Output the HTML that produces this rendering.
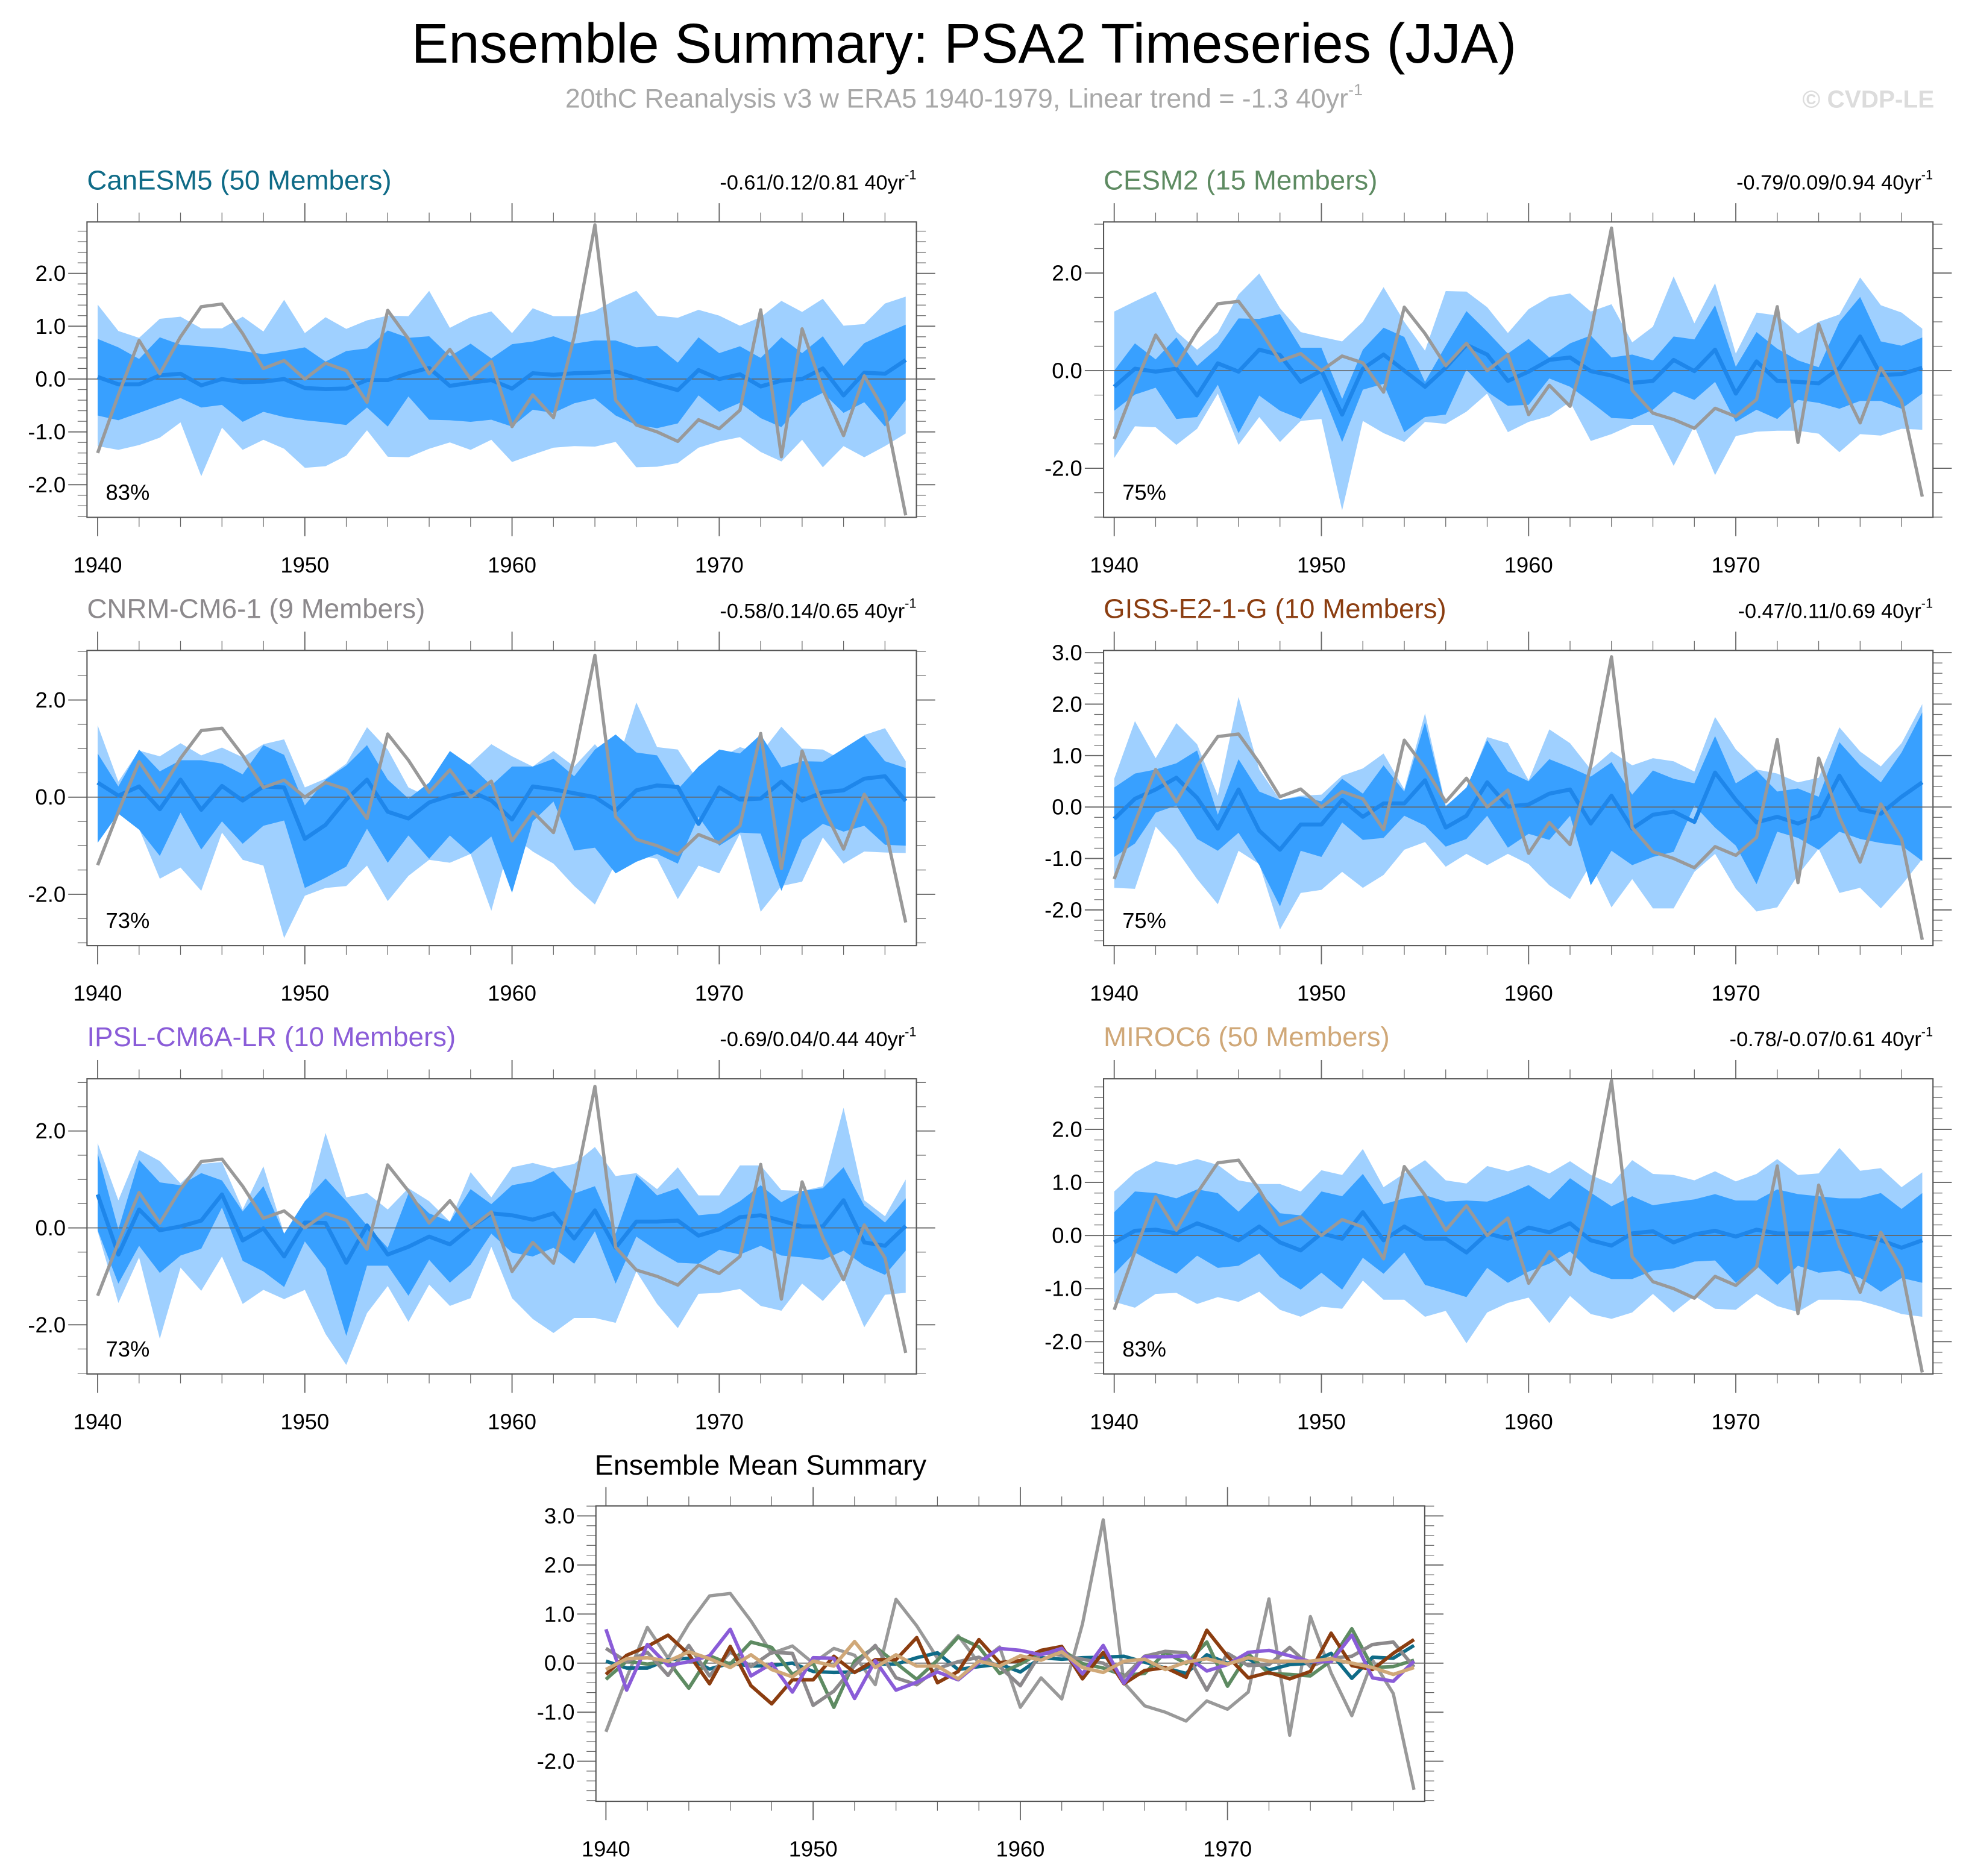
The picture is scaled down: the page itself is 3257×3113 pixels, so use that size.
<!DOCTYPE html>
<html><head><meta charset="utf-8"><style>
html,body{margin:0;padding:0;background:#fff;}
svg{display:block;font-family:"Liberation Sans",Arial,sans-serif;}
</style></head><body>
<svg id="chart" width="3257" height="3113" viewBox="0 0 3257 3113" xmlns="http://www.w3.org/2000/svg">
<g id="root" transform="scale(2.0772)">
<text x="770" y="50" text-anchor="middle" font-size="44.5" fill="#000">Ensemble Summary: PSA2 Timeseries (JJA)</text>
<text x="770" y="86" text-anchor="middle" font-size="21.5" fill="#a8a8a8">20thC Reanalysis v3 w ERA5 1940-1979, Linear trend = -1.3 40yr<tspan font-size="13" dy="-10">-1</tspan></text>
<text x="1545" y="86" text-anchor="end" font-size="19.5" font-weight="bold" fill="#dcdcdc">© CVDP-LE</text>
<text x="475" y="1178" font-size="22.5" fill="#000">Ensemble Mean Summary</text>
</g>
</svg>
<script>
const years = Array.from({length:40},(_,i)=>1940+i);
const obs = [-1.4,-0.3,0.73,0.1,0.8,1.37,1.42,0.86,0.2,0.35,0.0,0.3,0.16,-0.44,1.3,0.76,0.1,0.56,0.0,0.33,-0.9,-0.3,-0.73,0.8,2.92,-0.4,-0.87,-1.0,-1.18,-0.77,-0.94,-0.59,1.31,-1.47,0.95,-0.2,-1.07,0.06,-0.62,-2.58];

const canMean = [0.04,-0.1,-0.1,0.07,0.1,-0.12,0.0,-0.06,-0.05,0.0,-0.17,-0.19,-0.18,-0.02,-0.02,0.11,0.21,-0.13,-0.07,-0.02,-0.18,0.11,0.08,0.11,0.12,0.14,0.02,-0.1,-0.21,0.17,0.0,0.09,-0.14,-0.03,0.0,0.2,-0.31,0.12,0.1,0.36];
const canHi2 = [1.41,0.91,0.78,1.14,1.18,0.96,0.96,1.18,0.9,1.5,0.87,1.17,0.95,1.11,1.2,1.19,1.67,0.97,1.17,1.28,0.87,1.34,1.19,1.19,1.29,1.5,1.67,1.2,1.16,1.31,1.2,1.01,1.17,1.48,1.27,1.52,1.01,1.04,1.43,1.56];
const canHi1 = [0.76,0.6,0.38,0.79,0.65,0.62,0.59,0.53,0.47,0.53,0.6,0.33,0.53,0.58,0.92,0.78,0.81,0.43,0.67,0.39,0.66,0.71,0.81,0.67,0.73,0.73,0.6,0.63,0.31,0.79,0.49,0.62,0.4,0.79,0.49,0.81,0.25,0.68,0.86,1.03];
const canLo1 = [-0.69,-0.78,-0.64,-0.5,-0.36,-0.54,-0.49,-0.81,-0.62,-0.72,-0.78,-0.82,-0.87,-0.54,-0.9,-0.33,-0.77,-0.78,-0.81,-0.77,-0.9,-0.58,-0.64,-0.46,-0.37,-0.69,-0.87,-0.93,-0.84,-0.31,-0.62,-0.45,-0.74,-0.91,-0.46,-0.26,-0.64,-0.44,-0.9,-0.4];
const canLo2 = [-1.27,-1.34,-1.25,-1.11,-0.82,-1.84,-0.92,-1.34,-1.15,-1.32,-1.68,-1.65,-1.45,-0.97,-1.47,-1.48,-1.32,-1.2,-1.34,-1.15,-1.57,-1.43,-1.3,-1.27,-1.28,-1.19,-1.67,-1.66,-1.59,-1.3,-1.18,-1.1,-1.38,-1.56,-1.15,-1.67,-1.27,-1.48,-1.27,-1.03];

const cesmMean = [-0.33,0.04,-0.02,0.04,-0.51,0.15,-0.02,0.43,0.32,-0.23,0.0,-0.9,0.04,0.33,0.0,-0.33,0.06,0.53,0.33,-0.21,-0.02,0.22,0.27,-0.01,-0.1,-0.25,-0.21,0.22,-0.01,0.43,-0.47,0.19,-0.21,-0.23,-0.26,0.05,0.7,-0.09,-0.07,0.06];
const cesmHi2 = [1.21,1.42,1.62,0.8,0.43,0.78,1.56,1.99,1.28,0.79,0.69,0.6,1.0,1.71,1.0,0.41,1.63,1.62,1.3,0.77,1.26,1.51,1.58,1.21,1.36,0.58,0.9,1.93,0.97,1.79,0.35,1.19,1.13,0.76,1.0,1.15,1.91,1.34,1.19,0.86];
const cesmHi1 = [0.0,0.56,0.23,0.68,0.1,0.47,1.07,1.06,1.16,0.47,0.47,-0.58,0.43,0.88,0.69,-0.23,0.51,1.22,0.8,0.35,0.65,0.27,0.56,0.72,0.27,0.33,0.21,0.7,0.64,1.34,0.08,0.79,0.45,0.21,0.07,1.0,1.51,0.6,0.51,0.68];
const cesmLo1 = [-0.82,-0.49,-0.35,-0.99,-0.95,-0.29,-1.28,-0.51,-0.82,-0.99,-0.39,-1.46,-0.39,-0.27,-1.26,-0.95,-0.9,0.02,-0.43,-0.72,-0.7,-0.16,-0.33,-0.64,-0.97,-0.99,-0.8,-0.43,-0.6,-0.23,-1.05,-0.8,-0.99,-0.6,-0.66,-0.78,-0.62,-0.62,-0.78,-0.47];
const cesmLo2 = [-1.79,-1.14,-1.16,-1.52,-1.19,-0.47,-1.52,-0.95,-1.46,-1.03,-0.99,-2.86,-1.03,-1.28,-1.46,-1.05,-1.09,-0.84,-0.47,-1.26,-1.05,-0.93,-0.64,-1.44,-1.3,-1.11,-1.11,-1.95,-1.13,-2.14,-1.34,-1.25,-1.23,-1.23,-1.29,-1.67,-1.3,-1.33,-1.19,-1.21];

const cnrmMean = [0.3,0.03,0.22,-0.25,0.36,-0.26,0.23,-0.07,0.22,0.2,-0.86,-0.57,-0.05,0.36,-0.3,-0.44,-0.11,0.03,0.12,-0.07,-0.46,0.22,0.16,0.08,0.0,-0.28,0.14,0.24,0.21,-0.55,0.2,-0.05,-0.03,0.32,-0.07,0.1,0.14,0.38,0.43,-0.08];
const cnrmHi2 = [1.48,0.32,0.96,0.84,1.11,0.86,1.02,0.82,1.09,1.19,0.2,0.38,0.69,1.44,0.98,0.2,0.0,0.4,0.69,1.09,0.84,0.63,0.95,0.63,1.09,0.59,1.95,1.03,0.98,0.32,0.8,1.03,0.9,1.45,1.0,0.98,0.75,1.28,1.42,0.74];
const cnrmHi1 = [0.9,0.22,0.98,0.53,0.76,0.76,0.69,0.47,1.07,0.87,-0.17,0.36,0.65,1.07,0.36,-0.03,0.3,0.95,0.65,0.24,0.63,0.63,0.79,0.43,0.98,1.29,0.92,0.86,0.16,0.63,0.98,0.9,1.29,0.61,0.74,0.73,1.0,1.27,0.74,0.6];
const cnrmLo1 = [-0.94,-0.34,-0.67,-1.21,-0.32,-1.08,-0.5,-0.96,-0.59,-0.48,-1.87,-1.66,-1.43,-0.65,-1.35,-0.79,-1.27,-0.79,-1.17,-0.81,-1.97,-0.5,-0.09,-1.1,-1.04,-1.57,-1.33,-1.17,-1.37,-0.4,-1.0,-0.73,-0.75,-1.93,-0.88,-0.55,-0.71,-0.59,-0.98,-1.0];
const cnrmLo2 = [-0.94,-0.32,-0.65,-1.68,-1.45,-1.93,-0.73,-1.29,-1.41,-2.9,-2.03,-1.87,-1.83,-1.41,-2.14,-1.62,-1.29,-1.35,-1.17,-2.34,-0.79,-1.12,-1.37,-1.83,-2.21,-1.35,-1.19,-1.27,-2.1,-1.41,-1.57,-0.75,-2.36,-1.83,-1.74,-0.83,-1.37,-1.12,-1.14,-1.15];

const gissMean = [-0.23,0.16,0.34,0.57,0.18,-0.42,0.34,-0.46,-0.83,-0.34,-0.34,0.14,-0.19,0.07,0.07,0.52,-0.4,-0.17,0.48,0.01,0.05,0.26,0.34,-0.32,0.22,-0.42,-0.15,-0.09,-0.29,0.67,0.14,-0.3,-0.19,-0.32,-0.17,0.61,-0.05,-0.13,0.2,0.48];
const gissHi2 = [0.55,1.67,0.95,1.63,1.22,0.22,2.14,0.73,0.14,0.22,0.24,0.61,0.75,1.04,0.34,1.82,0.03,0.34,1.36,1.24,0.52,1.51,1.24,0.73,1.08,0.81,0.95,0.89,0.69,1.75,1.12,0.73,0.65,0.48,0.57,1.55,1.08,0.79,1.24,2.0];
const gissHi1 = [0.38,0.65,0.73,0.85,1.1,-0.15,0.93,0.3,0.14,0.2,0.11,0.55,0.26,0.81,0.3,1.65,0.01,0.38,1.3,0.69,0.5,0.93,0.77,0.59,0.87,0.24,0.71,0.55,0.46,1.38,0.46,0.71,0.3,0.36,0.2,1.26,0.81,0.48,1.06,1.84];
const gissLo1 = [-0.97,-0.71,-0.11,0.03,-0.62,-0.85,-0.5,-1.13,-1.93,-0.85,-0.97,-0.3,-0.64,-0.6,-0.17,-0.36,-0.77,-0.62,-0.17,-0.79,-0.52,-0.64,-0.17,-1.52,-0.85,-1.13,-0.97,-0.87,0.03,-0.4,-0.75,-1.5,-0.48,-0.6,-0.83,-0.48,-0.62,-0.7,-0.75,-1.05];
const gissLo2 = [-1.57,-1.59,-0.38,-0.83,-1.4,-1.89,-0.85,-1.11,-2.38,-1.67,-1.61,-1.26,-1.57,-1.32,-0.83,-0.68,-1.16,-0.91,-1.13,-0.91,-1.11,-1.52,-1.79,-1.11,-1.95,-1.4,-1.97,-1.97,-1.26,-0.91,-1.59,-2.03,-1.95,-1.32,-0.81,-1.67,-1.57,-1.97,-1.52,-1.01];

const ipslMean = [0.69,-0.55,0.38,-0.05,0.03,0.15,0.69,-0.26,-0.01,-0.59,0.11,0.1,-0.72,0.05,-0.55,-0.39,-0.18,-0.34,0.01,0.3,0.26,0.17,0.3,-0.22,0.36,-0.41,0.13,0.13,0.15,-0.16,-0.03,0.22,0.26,0.15,0.03,0.03,0.57,-0.3,-0.37,0.04];
const ipslHi2 = [1.75,0.57,1.61,1.38,0.92,1.32,1.36,0.38,1.27,-0.12,0.34,1.96,0.63,0.72,0.38,0.82,0.55,0.13,1.15,0.63,1.25,1.34,1.23,1.32,1.67,1.07,1.13,0.8,1.25,0.67,0.67,1.29,1.29,0.78,0.76,0.86,2.48,0.57,0.24,1.0];
const ipslHi1 = [1.54,-0.03,1.4,0.94,0.88,1.13,0.98,0.34,0.86,-0.12,0.55,1.02,0.55,0.05,-0.41,0.71,0.3,0.13,0.8,0.49,0.88,0.96,1.17,0.71,0.86,-0.12,1.09,0.67,0.82,0.26,0.3,0.55,0.88,0.53,0.76,0.82,1.25,0.46,0.11,0.61];
const ipslLo1 = [-0.05,-1.15,-0.37,-0.93,-0.57,-0.43,0.42,-0.68,-0.9,-1.22,-0.28,-0.84,-2.23,-0.78,-0.78,-1.4,-0.66,-1.13,-0.76,-0.12,-0.51,-0.59,-0.41,-0.74,-0.07,-1.15,-0.18,-0.47,-0.72,-0.74,-0.45,-0.55,-0.37,-0.57,-0.61,-0.66,-0.47,-0.78,-0.97,-0.47];
const ipslLo2 = [-0.07,-1.55,-0.61,-2.29,-0.82,-1.3,-0.59,-1.57,-1.28,-1.47,-1.28,-2.19,-2.83,-1.76,-1.2,-1.94,-1.17,-1.61,-1.45,-0.39,-1.45,-1.88,-2.17,-1.86,-1.86,-1.96,-0.9,-1.57,-2.07,-1.36,-1.34,-1.26,-1.61,-1.71,-1.15,-1.51,-1.03,-2.05,-1.38,-1.34];

const mirocMean = [-0.13,0.09,0.11,0.04,0.23,0.09,-0.09,0.17,-0.13,-0.28,0.04,-0.06,0.44,-0.09,0.17,-0.06,-0.06,-0.32,0.04,-0.06,0.15,0.06,0.23,-0.09,-0.19,0.04,0.08,-0.13,0.02,0.09,-0.02,0.11,0.04,0.04,0.04,0.09,0.0,-0.09,-0.23,-0.09];
const mirocHi2 = [0.83,1.19,1.4,1.33,1.44,1.33,1.04,0.97,0.97,0.83,1.23,1.14,1.63,0.91,1.17,1.42,1.04,0.98,1.31,1.21,1.33,1.17,1.4,1.14,0.97,1.42,1.16,1.14,1.04,1.21,1.02,1.16,1.44,1.14,1.17,1.65,1.22,1.27,0.91,1.19];
const mirocHi1 = [0.44,0.83,0.8,0.7,0.87,0.8,0.45,0.83,0.42,0.38,0.83,0.74,1.16,0.59,0.7,0.76,0.64,0.66,0.64,0.78,0.95,0.68,1.08,0.81,0.55,0.74,0.57,0.63,0.68,0.78,0.66,0.66,0.87,0.78,0.74,0.7,0.7,0.8,0.5,0.8];
const mirocLo1 = [-0.72,-0.32,-0.53,-0.72,-0.38,-0.61,-0.57,-0.34,-0.78,-1.02,-0.7,-1.02,-0.42,-0.72,-0.32,-0.93,-1.04,-1.16,-0.61,-0.89,-0.68,-0.53,-0.3,-0.68,-0.82,-0.82,-0.66,-0.62,-0.49,-0.47,-0.89,-0.57,-0.93,-0.57,-0.7,-0.66,-0.8,-1.06,-0.8,-0.89];
const mirocLo2 = [-1.25,-1.36,-1.1,-1.08,-1.29,-1.16,-1.25,-1.06,-1.4,-1.53,-1.34,-1.38,-0.85,-1.21,-1.21,-1.53,-1.42,-2.03,-1.45,-1.27,-1.17,-1.65,-1.14,-1.48,-1.57,-1.45,-1.1,-1.45,-1.14,-1.38,-1.4,-1.1,-1.33,-1.44,-1.21,-1.21,-1.23,-1.34,-1.48,-1.53];

const modelNames = ["CanESM5 (50 Members)","CESM2 (15 Members)","CNRM-CM6-1 (9 Members)","GISS-E2-1-G (10 Members)","IPSL-CM6A-LR (10 Members)","MIROC6 (50 Members)"];
const trendLabels = ["-0.61/0.12/0.81 40yr","-0.79/0.09/0.94 40yr","-0.58/0.14/0.65 40yr","-0.47/0.11/0.69 40yr","-0.69/0.04/0.44 40yr","-0.78/-0.07/0.61 40yr"];
const pctLabels = ["83%","75%","73%","75%","73%","83%"];
const yTickLabels = [[-2,-1,0,1,2],[-2,0,2],[-2,0,2],[-2,-1,0,1,2,3],[-2,0,2],[-2,-1,0,1,2]];
const xTickYears = [1940,1950,1960,1970];
const summaryYTicks = [-2,-1,0,1,2,3];

const NS="http://www.w3.org/2000/svg";
const root=document.getElementById('root');
function mk(tag,attrs,parent){const e=document.createElementNS(NS,tag);for(const k in attrs)e.setAttribute(k,attrs[k]);(parent||root).appendChild(e);return e;}

const modelColors=["#0f6b87","#5e8b62","#8c898c","#8b3d10","#8a5cd8","#d0a878"];
const series=[[canMean,canHi2,canHi1,canLo1,canLo2],[cesmMean,cesmHi2,cesmHi1,cesmLo1,cesmLo2],[cnrmMean,cnrmHi2,cnrmHi1,cnrmLo1,cnrmLo2],[gissMean,gissHi2,gissHi1,gissLo1,gissLo2],[ipslMean,ipslHi2,ipslHi1,ipslLo1,ipslLo2],[mirocMean,mirocHi2,mirocHi1,mirocLo1,mirocLo2]];
const geo=[
 {L:69.5,R:732,T:177.3,B:413.3,x0:78,y0:302.8,u:42.2,minor:0.2},
 {L:881.5,R:1544,T:177.3,B:413.3,x0:890,y0:296.1,u:39.0,minor:0.5},
 {L:69.5,R:732,T:519.6,B:755.4,x0:78,y0:636.8,u:38.8,minor:0.5},
 {L:881.5,R:1544,T:519.6,B:755.4,x0:890,y0:644.7,u:41.1,minor:0.2},
 {L:69.5,R:732,T:861.8,B:1097.6,x0:78,y0:980.9,u:38.7,minor:0.5},
 {L:881.5,R:1544,T:861.8,B:1097.6,x0:890,y0:987,u:42.4,minor:0.2}
];
const STEP=16.55;

function axes(g,p,majors,name){
  const X=yr=>p.x0+(yr-1940)*STEP, Y=v=>p.y0-v*p.u;
  const ax=mk('g',{},g);
  
  
  for(let yr=1940;yr<=1979;yr+=2){
    const maj=yr%10===0, len=maj?15:7.5;
    mk('line',{x1:X(yr),x2:X(yr),y1:p.T,y2:p.T-len,stroke:'#666','stroke-width':maj?0.9:0.6},ax);
    mk('line',{x1:X(yr),x2:X(yr),y1:p.B,y2:p.B+len,stroke:'#666','stroke-width':maj?0.9:0.6},ax);
  }
  xTickYears.forEach(yr=>{
    const t=mk('text',{x:X(yr),y:p.B+44,'text-anchor':'middle','font-size':17.5,fill:'#000'},ax);
    t.textContent=yr;
    
    
  });
  const vmin=(p.y0-p.B)/p.u, vmax=(p.y0-p.T)/p.u;
  for(let k=Math.ceil(vmin/p.minor-1e-6);k*p.minor<=vmax+1e-6;k++){
    const v=k*p.minor, maj=majors.some(m=>Math.abs(m-v)<1e-6), len=maj?15:7.5, y=Y(v);
    mk('line',{x1:p.L,x2:p.L-len,y1:y,y2:y,stroke:'#666','stroke-width':maj?0.9:0.6},ax);
    mk('line',{x1:p.R,x2:p.R+len,y1:y,y2:y,stroke:'#666','stroke-width':maj?0.9:0.6},ax);
  }
  majors.forEach(v=>{
    const t=mk('text',{x:p.L-17,y:Y(v)+6,'text-anchor':'end','font-size':17.5,fill:'#000'},ax);
    t.textContent=v.toFixed(1);
    
    
  });
  mk('rect',{x:p.L,y:p.T,width:p.R-p.L,height:p.B-p.T,fill:'none',stroke:'#555','stroke-width':1},ax);
  return {X,Y};
}
function line(g,X,Y,vals,color,w){
  return mk('polyline',{points:vals.map((v,i)=>X(years[i])+','+Y(v)).join(' '),fill:'none',stroke:color,'stroke-width':w,'stroke-linejoin':'round'},g);
}
function band(g,X,Y,hi,lo,color){
  const pts=hi.map((v,i)=>X(years[i])+','+Y(v)).concat(lo.map((v,i)=>[i,v]).reverse().map(([i,v])=>X(years[i])+','+Y(v)));
  return mk('polygon',{points:pts.join(' '),fill:color},g);
}

geo.forEach((p,k)=>{
  const g=mk('g',{});
  
  
  const {X,Y}=axes(g,p,yTickLabels[k],'panel-'+(k+1));
  const [m,h2,h1,l1,l2]=series[k];
  const b2=band(g,X,Y,h2,l2,'#9fd0ff');
  
  
  const b1=band(g,X,Y,h1,l1,'#38a0ff');
  
  
  const z=mk('line',{x1:p.L,x2:p.R,y1:Y(0),y2:Y(0),stroke:'#666','stroke-width':0.8},g);
  
  
  const ml=line(g,X,Y,m,'#1e86ea',3.2);
  
  
  const ol=line(g,X,Y,obs,'#999999',2.6);
  
  
  const t=mk('text',{x:p.L,y:p.T-26,'font-size':22,fill:modelColors[k]},g);
  t.textContent=modelNames[k];
  
  
  const s=mk('text',{x:p.R,y:p.T-26,'text-anchor':'end','font-size':16.5,fill:'#000'},g);
  s.textContent=trendLabels[k];
  const sup=mk('tspan',{'font-size':10.5,dy:-8},s);
  sup.textContent='-1';
  
  
  const pc=mk('text',{x:p.L+15,y:p.B-14,'font-size':17.5,fill:'#000'},g);
  pc.textContent=pctLabels[k];
  
  
});

const ps={L:476,R:1138,T:1203,B:1439,x0:484,y0:1328.6,u:39.2,minor:0.2};
const gs=mk('g',{});


const SA=axes(gs,ps,summaryYTicks,'summary');
const sz=mk('line',{x1:ps.L,x2:ps.R,y1:SA.Y(0),y2:SA.Y(0),stroke:'#666','stroke-width':0.8},gs);


const so=line(gs,SA.X,SA.Y,obs,'#999999',2.6);


series.forEach((s,k)=>{
  const l=line(gs,SA.X,SA.Y,s[0],modelColors[k],2.8);
  
  
});
</script>
</body></html>
